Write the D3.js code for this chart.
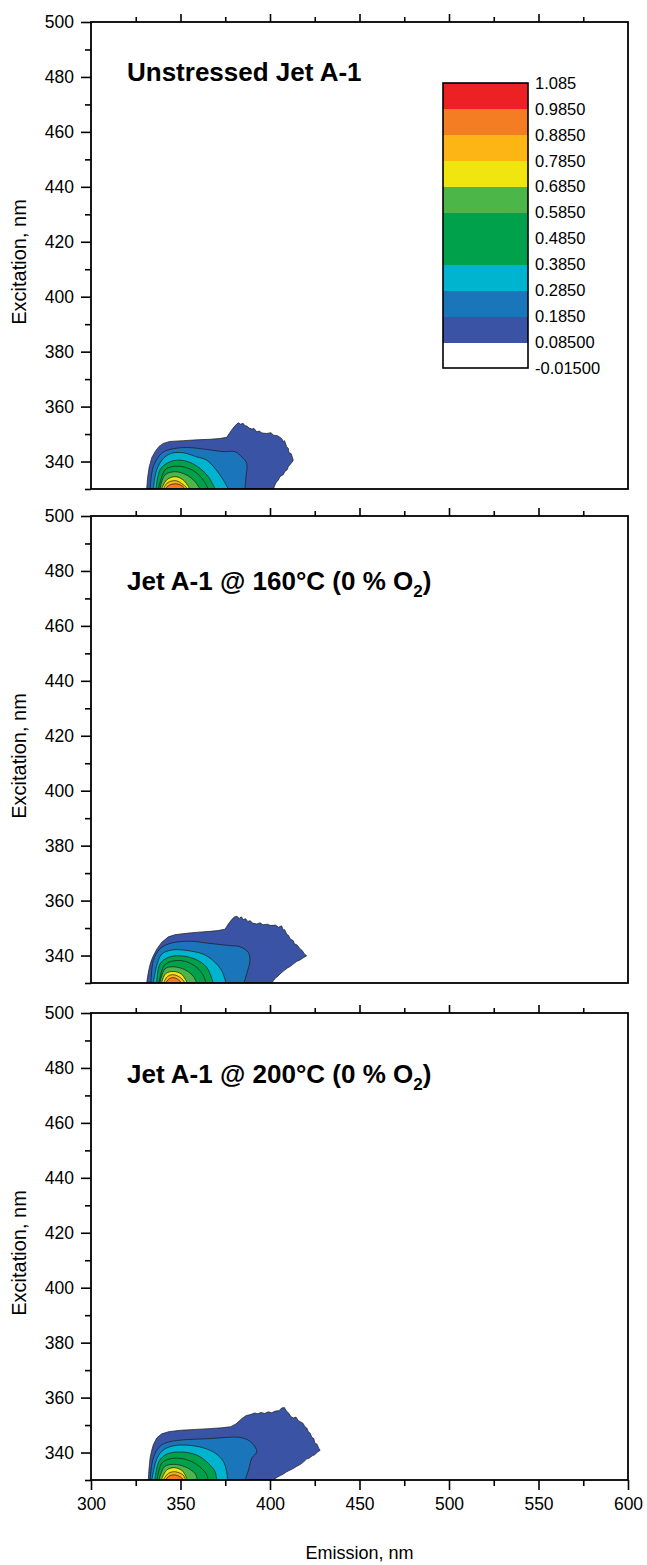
<!DOCTYPE html>
<html>
<head>
<meta charset="utf-8">
<script src="https://cdn.jsdelivr.net/npm/d3@7"></script>
<style>
  body { margin: 0; background: #fff; }
  svg { display: block; font-family: Arial, "Liberation Sans", sans-serif; }
</style>
</head>
<body>
<svg id="chart" width="647" height="1565"></svg>
<script>
// contour thresholds (legend), lowest first
const levels = [-0.015, 0.085, 0.185, 0.285, 0.385, 0.485, 0.585, 0.685, 0.785, 0.885, 0.985, 1.085];
const levelLabels = ["-0.01500", "0.08500", "0.1850", "0.2850", "0.3850", "0.4850",
                     "0.5850", "0.6850", "0.7850", "0.8850", "0.9850", "1.085"];
// fill of the band that starts at levels[i]
const bandColors = ["#ffffff", "#3a53a4", "#1a75bb", "#00b3cf", "#00a14b", "#00a14b",
                    "#4cb748", "#f0e50f", "#fcb515", "#f47d24", "#ed2024"];

const xTicks = [300, 350, 400, 450, 500, 550, 600];
const xMinor = [325, 375, 425, 475, 525, 575];
const yTicks = [340, 360, 380, 400, 420, 440, 460, 480, 500];
const yMinor = [330, 350, 370, 390, 410, 430, 450, 470, 490];

// contour outlines [emission, excitation], one per level from 0.085 upward
const unstressed = [
  [[331.1,330],[331.6,334],[332.5,338],[334,341.5],[335.8,343.6],[338,345.5],[340.4,346.6],[344,347.3],[351.6,347.6],[359,347.9],[366.5,348.1],[372,348.4],[375.8,348.8],[377.2,350.2],[378.6,351.5],[380.4,353],[382.3,354.1],[383.5,353.6],[385,353.9],[386,353],[387,352.9],[388.4,352.2],[390,351.8],[391,352.1],[392.6,350.8],[394,351.1],[395.5,350.4],[398.1,350.2],[400.5,350.5],[402,349.6],[404.2,349.4],[406.5,348.4],[407.4,347.3],[408.1,347.6],[409.3,345.4],[410.2,344.8],[410.6,343.2],[411.8,342.9],[413,340.5],[412.1,339.6],[410.2,338.1],[409.6,337],[408.3,336.4],[407.5,335.3],[405.6,334.5],[404.5,333.1],[403.4,332.4],[402.6,331.2],[401.9,330]],
  [[333,330],[334.8,338.1],[339.4,343],[344.1,344.4],[353.4,345.1],[364.6,344.4],[373.9,343.6],[380.4,343.6],[384.2,341.7],[387,339.3],[386.6,334.5],[386,330]],
  [[334.8,330],[336.7,336.9],[340.4,341.1],[345,343],[351.5,343.2],[359,341.7],[364.6,340.5],[369.3,337.5],[373.9,333.3],[376.7,330]],
  [[336.3,330],[338.5,336.9],[342.3,339.3],[347.9,340.5],[354.4,339.9],[360.9,337.5],[365.5,334.5],[369.3,330]],
  [[337.6,330],[341.3,336.9],[345,338.1],[351.5,338.1],[358.1,336.3],[362.7,333.3],[365.5,330]],
  [[338.5,330],[341.3,335.1],[346.9,336.3],[353.4,335.1],[358.1,332.7],[360.9,330]],
  [[339.4,330],[342.3,333.3],[346.9,334.5],[351.5,333.3],[355.3,330]],
  [[340.4,330],[342.8,332.3],[347.5,333],[351.5,331.6],[354.1,330]],
  [[341.3,330],[344.1,331.5],[348.5,331.8],[351.5,330.8],[352.5,330]]
];

const stressed160 = [
  [[331.1,330],[331.8,333],[332.6,335.7],[333.6,338],[334.8,339.9],[337,342.6],[339.5,344.8],[343.2,346.8],[347,347.6],[353.4,348.1],[360,348.5],[366.5,348.8],[371,349.1],[374.9,349.6],[376.7,351.5],[378.5,353],[380,354],[381.5,354.3],[382.8,353.5],[384,354.1],[385,353.1],[386.4,353.4],[387.6,352.4],[389,352.7],[390.2,351.8],[392.6,351.5],[394.5,351.9],[396,351.2],[398.5,351.4],[400.5,350.9],[403,351.1],[404.8,350.3],[406.5,350.8],[407.4,349.3],[408.2,349.4],[409.3,347.8],[410.4,347.3],[411.2,346.1],[413,345.4],[413.6,344.3],[415.2,343.8],[416.8,342.4],[418,341.8],[419.2,340.6],[420.5,339.9],[418.4,339.1],[416.6,338.3],[415,337.9],[413,336.9],[411.2,336],[409.8,335.5],[408,334.6],[405.6,333.3],[404.3,332.4],[403,331.8],[402,330.9],[400.9,330]],
  [[333.5,330],[334.8,338.1],[338.5,342.4],[344.1,344.4],[355.3,345.2],[366.5,344.4],[377.7,343.6],[383.2,343.2],[387.9,341.1],[388.8,338.1],[387,333.4],[385.5,330]],
  [[334.8,330],[336.7,336.3],[339.5,340.5],[345,342],[351.5,342],[362.7,340.5],[368.3,338.1],[373,334.5],[375.4,330]],
  [[336.7,330],[338.5,336.9],[343.2,339.3],[349.7,339.9],[358.1,338.7],[364.6,335.7],[368.3,330]],
  [[338,330],[340.8,336.3],[345,337.9],[352.5,337.9],[359,335.7],[362.7,332.8],[364.2,330]],
  [[338.5,330],[341.3,335.1],[346,335.9],[352.5,334.8],[357.2,332.4],[359,330]],
  [[339.4,330],[341.7,333.4],[346,334.2],[350.6,333.2],[353.8,330]],
  [[340.6,330],[342.8,332.4],[346.3,333],[350.6,331.6],[352.5,330]],
  [[341.7,330],[343.8,331.6],[346.6,331.9],[349.7,330.7],[350.6,330]]
];

const stressed200 = [
  [[332,330],[332.4,334],[333,338],[333.8,340.5],[334.8,342.8],[336.7,345.3],[339.5,346.8],[343.5,347.6],[350,348.1],[358,348.4],[366,348.7],[373,349],[378,349.4],[381,350.4],[384,352.2],[386.5,353.4],[389,353.8],[391.5,354.4],[393,354.1],[395,354.6],[397,354.2],[399,354.8],[401,354.5],[403,355.1],[405,355.2],[406.5,356.2],[408,356.4],[409.2,355.1],[410.5,354.3],[411.6,353.1],[413,352.6],[414.5,352.9],[415.8,351.6],[417,351.2],[418.5,350.6],[419.5,349.4],[420.6,348.9],[421.4,347.6],[422.5,347],[423.3,345.6],[424.5,345.1],[425,343.5],[426.3,343],[427.2,341.6],[428,340.8],[426.4,340.1],[425,339.2],[423.6,338.8],[422,338],[420.4,337.6],[418.8,336.6],[416.8,335.6],[415,335],[413,334.2],[411.2,333.6],[409.3,333],[407.5,332.2],[405.8,331.6],[404,331],[402.8,330.5],[401.8,330]],
  [[333,330],[334.8,338],[338.5,342.3],[343.2,343.8],[353.4,344.7],[364.6,345],[375.8,345.5],[383.2,345.5],[388.8,344.1],[392.6,340.4],[389.8,337.9],[388,333.6],[386,330]],
  [[334,330],[336.3,336.8],[339.5,340.4],[345,342.3],[353.4,342.7],[362.7,341.7],[369.3,339.8],[373.9,336.8],[375.8,333],[376.3,330]],
  [[335.7,330],[338,336.8],[342.3,339.4],[349.7,340.2],[359,339.1],[365.5,336.1],[369.3,333],[370.2,330]],
  [[336.9,330],[339.5,336.1],[344.1,337.7],[351.5,337.7],[359,335.7],[364.2,332.4],[365.5,330]],
  [[338,330],[341,334.8],[346,335.7],[352.5,334.8],[358.1,332.4],[359.4,330]],
  [[339.3,330],[342.3,333.6],[346.4,334.5],[351.1,333.3],[353.8,330]],
  [[340.4,330],[343.2,332.4],[346.9,333],[351.5,331.8],[352.9,330]],
  [[341.5,330],[344.1,331.6],[347.5,331.8],[350.6,330.8],[351.5,330]]
];

const panels = [
  {title: "Unstressed Jet A-1", sub: null, outlines: unstressed},
  {title: "Jet A-1 @ 160°C (0 % O", sub: "2", outlines: stressed160},
  {title: "Jet A-1 @ 200°C (0 % O", sub: "2", outlines: stressed200}
];

const svg = d3.select("#chart");
const panelTop = [22, 516, 1013];
const panelH = 467;
const titleOffset = [59, 74, 70];
const x = d3.scaleLinear().domain([300, 600]).range([91, 628]);

function styleAxis(sel) {
  sel.select(".domain").remove();
  sel.selectAll(".tick line").attr("stroke", "#000").attr("stroke-width", 1.6);
  sel.selectAll(".tick text").attr("fill", "#000").style("font-size", "17.5px");
}

panels.forEach((p, i) => {
  const top = panelTop[i];
  const y = d3.scaleLinear().domain([330, 500]).range([top + panelH, top]);
  const g = svg.append("g");

  g.append("clipPath").attr("id", "clip" + i)
    .append("rect")
    .attr("x", x(300)).attr("y", top)
    .attr("width", x(600) - x(300)).attr("height", panelH);

  const plot = g.append("g").attr("clip-path", `url(#clip${i})`);
  p.outlines.forEach((pts, k) => {
    const line = d3.line()
      .x(d => x(d[0])).y(d => y(d[1]))
      .curve(k === 0 ? d3.curveLinear : d3.curveCatmullRom);
    plot.append("path")
      .attr("d", line(pts) + "Z")
      .attr("fill", bandColors[k + 1])
      .attr("stroke", "#1a1a1a")
      .attr("stroke-width", 0.7);
  });

  // left axis: major + minor
  g.append("g").attr("transform", `translate(${x(300)},0)`)
    .call(d3.axisLeft(y).tickValues(yMinor).tickSize(6).tickFormat(""))
    .call(styleAxis);
  g.append("g").attr("transform", `translate(${x(300)},0)`)
    .call(d3.axisLeft(y).tickValues(yTicks).tickSize(10).tickPadding(7).tickFormat(d3.format("d")))
    .call(styleAxis);

  // top axis ticks
  g.append("g").attr("transform", `translate(0,${top})`)
    .call(d3.axisTop(x).tickValues(xMinor).tickSize(5).tickFormat(""))
    .call(styleAxis);
  g.append("g").attr("transform", `translate(0,${top})`)
    .call(d3.axisTop(x).tickValues(xTicks.slice(1, -1)).tickSize(8).tickFormat(""))
    .call(styleAxis);

  // bottom axis only on the last panel
  if (i === panels.length - 1) {
    g.append("g").attr("transform", `translate(0,${top + panelH})`)
      .call(d3.axisBottom(x).tickValues(xMinor).tickSize(6).tickFormat(""))
      .call(styleAxis);
    g.append("g").attr("transform", `translate(0,${top + panelH})`)
      .call(d3.axisBottom(x).tickValues(xTicks).tickSize(10).tickPadding(8).tickFormat(d3.format("d")))
      .call(styleAxis);
  }

  g.append("rect")
    .attr("x", x(300)).attr("y", top)
    .attr("width", x(600) - x(300)).attr("height", panelH)
    .attr("fill", "none").attr("stroke", "#000").attr("stroke-width", 1.8);

  g.append("text")
    .attr("transform", `translate(26,${top + 240}) rotate(-90)`)
    .attr("text-anchor", "middle")
    .style("font-size", "20px")
    .text("Excitation, nm");

  const t = g.append("text")
    .attr("x", 127).attr("y", top + titleOffset[i])
    .style("font-size", "26px").style("font-weight", "bold")
    .text(p.title);
  if (p.sub) {
    t.append("tspan").attr("dy", 7).style("font-size", "17px").text(p.sub);
    t.append("tspan").attr("dy", -7).text(")");
  }
});

svg.append("text")
  .attr("x", (x(300) + x(600)) / 2).attr("y", 1559)
  .attr("text-anchor", "middle")
  .style("font-size", "18px")
  .text("Emission, nm");

// legend
const ly = d3.scaleLinear().domain([-0.015, 1.085]).range([368, 83]);
const legend = svg.append("g");
bandColors.forEach((c, i) => {
  legend.append("rect")
    .attr("x", 443).attr("width", 85)
    .attr("y", ly(levels[i + 1])).attr("height", ly(levels[i]) - ly(levels[i + 1]) + 0.5)
    .attr("fill", c)
    .attr("shape-rendering", "crispEdges");
});
legend.append("rect")
  .attr("x", 443).attr("y", ly(1.085)).attr("width", 85).attr("height", ly(-0.015) - ly(1.085))
  .attr("fill", "none").attr("stroke", "#000").attr("stroke-width", 1.6);
legend.selectAll("text.lab").data(levels).join("text")
  .attr("class", "lab")
  .attr("x", 535).attr("y", d => ly(d))
  .attr("dy", "0.35em")
  .style("font-size", "16.5px")
  .text((d, i) => levelLabels[i]);
</script>
</body>
</html>
